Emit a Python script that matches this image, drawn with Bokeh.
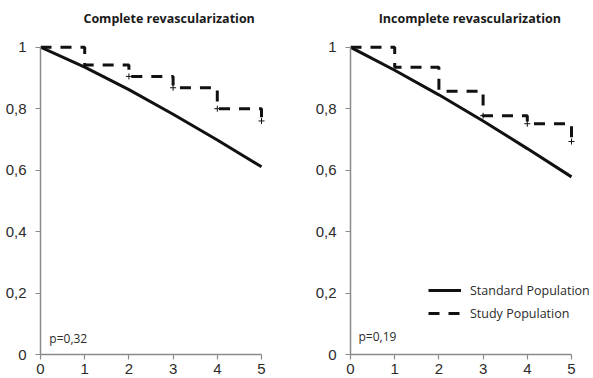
from bokeh.plotting import figure
from bokeh.layouts import row
from bokeh.models import FixedTicker, Label, Legend, LegendItem, Range1d
from bokeh.embed import file_html
from bokeh.resources import INLINE

# ---- data ----
years = [0, 1, 2, 3, 4, 5]
y_ticks = [0, 0.2, 0.4, 0.6, 0.8, 1.0]
y_tick_labels = ["0", "0,2", "0,4", "0,6", "0,8", "1"]
x_tick_labels = ["0", "1", "2", "3", "4", "5"]

titles = ["Complete revascularization", "Incomplete revascularization"]
p_values = ["p=0,32", "p=0,19"]

complete_standard = [1.0, 0.935, 0.862, 0.782, 0.698, 0.611]
complete_study = [1.0, 0.942, 0.905, 0.868, 0.800, 0.760]
complete_censor_x = [2, 3, 4, 5]
complete_censor_y = [0.905, 0.868, 0.800, 0.760]

incomplete_standard = [1.0, 0.925, 0.845, 0.760, 0.670, 0.578]
incomplete_study = [1.0, 0.935, 0.857, 0.777, 0.751, 0.693]
incomplete_censor_x = [3, 4, 5]
incomplete_censor_y = [0.777, 0.751, 0.693]

series_names = ["Standard Population", "Study Population"]

AXIS_COLOR = "#8a8a8a"
TEXT_COLOR = "#2b2b2b"
LINE_COLOR = "#111111"
DASH = "11 9"
PX_PER_UNIT_X = 44.2
FIG_H = 378
BORDER_BOTTOM = 24
FRAME_H = FIG_H - BORDER_BOTTOM
Y_ONE_PX = 46.7  # from top


def make_panel(width, title, pval, standard, study, cx, cy, title_x, pval_xy, legend):
    frame_w = width - 40
    y_end = FRAME_H / (FRAME_H - Y_ONE_PX)
    p = figure(width=width, height=FIG_H, output_backend="svg", toolbar_location=None,
               x_range=Range1d(0, frame_w / PX_PER_UNIT_X), y_range=Range1d(0, y_end),
               min_border_left=40, min_border_right=0, min_border_top=0,
               min_border_bottom=BORDER_BOTTOM)
    p.outline_line_color = None
    p.xgrid.visible = False
    p.ygrid.visible = False
    p.background_fill_color = "white"

    for ax in (p.xaxis[0], p.yaxis[0]):
        ax.axis_line_color = AXIS_COLOR
        ax.axis_line_width = 1.5
        ax.major_tick_line_color = AXIS_COLOR
        ax.major_tick_line_width = 1.2
        ax.major_tick_out = 5
        ax.major_tick_in = 0
        ax.minor_tick_line_color = None
        ax.major_label_text_font = "Liberation Sans"
        ax.major_label_text_font_size = "15px"
        ax.major_label_text_color = TEXT_COLOR
    p.xaxis.ticker = FixedTicker(ticks=years)
    p.xaxis.major_label_overrides = {k: v for k, v in zip(years, x_tick_labels)}
    p.xaxis.bounds = (0, 5)
    p.xaxis.major_label_standoff = 4
    p.yaxis.ticker = FixedTicker(ticks=y_ticks)
    p.yaxis.major_label_overrides = {k: v for k, v in zip(y_ticks, y_tick_labels)}
    p.yaxis.bounds = (0, 1)
    p.yaxis.major_label_standoff = 9

    r_std = p.line(years, standard, line_color=LINE_COLOR, line_width=3)
    r_study = p.step(years, study, mode="after", line_color=LINE_COLOR, line_width=3,
                     line_dash=DASH)
    p.scatter(cx, cy, marker="cross", size=6, line_color=LINE_COLOR, line_width=1)

    p.add_layout(Label(x=title_x, y=(FRAME_H - 18) / (FRAME_H - Y_ONE_PX), text=title,
                       text_font="Open Sans", text_font_style="bold", text_font_size="12.5px",
                       text_color="#1a1a1a", text_align="center", text_baseline="middle"))
    p.add_layout(Label(x=pval_xy[0], y=pval_xy[1], text=pval,
                       text_font="Open Sans", text_font_size="12px",
                       text_color=TEXT_COLOR, text_align="left", text_baseline="middle"))
    if legend:
        lg = Legend(items=[LegendItem(label=series_names[0], renderers=[r_std]),
                           LegendItem(label=series_names[1], renderers=[r_study])],
                    location=(78, 31), orientation="vertical",
                    glyph_width=33, glyph_height=20, spacing=3, padding=0, margin=0,
                    label_standoff=9, label_text_font="Open Sans",
                    label_text_font_size="12.5px", label_text_color=TEXT_COLOR,
                    background_fill_alpha=0, border_line_color=None)
        p.add_layout(lg)
    return p


left = make_panel(310, titles[0], p_values[0], complete_standard, complete_study,
                  complete_censor_x, complete_censor_y, 2.91, (0.2, 0.052), False)
right = make_panel(283, titles[1], p_values[1], incomplete_standard, incomplete_study,
                   incomplete_censor_x, incomplete_censor_y, 2.70, (0.18, 0.058), True)

layout = row(left, right)
open("out.html", "w").write(file_html(layout, INLINE))
